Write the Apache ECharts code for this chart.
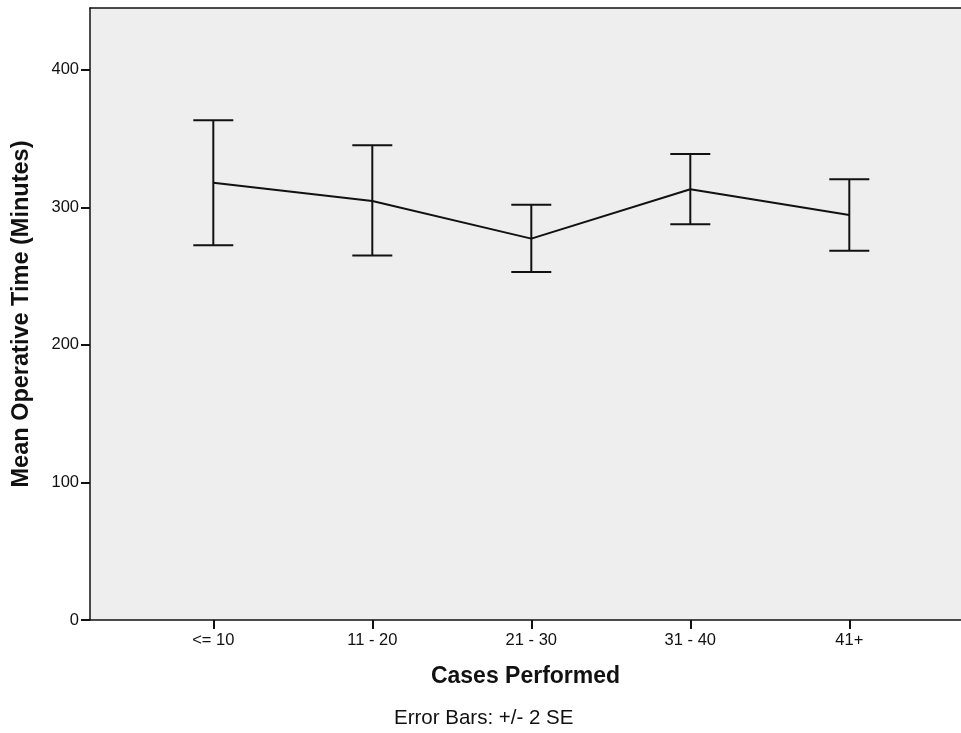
<!DOCTYPE html>
<html>
<head>
<meta charset="utf-8">
<script src="https://cdn.jsdelivr.net/npm/echarts@6/dist/echarts.min.js"></script>
<style>html,body{margin:0;padding:0;background:#fff}#c{width:961px;height:733px}</style>
</head>
<body>
<div id="c"></div>
<script>
const categories = ['<= 10', '11 - 20', '21 - 30', '31 - 40', '41+'];
const means = [318, 304.7, 277.3, 313.2, 294.5];
const lower = [272.5, 265, 253.1, 287.8, 268.4];
const upper = [363.4, 345.2, 302, 338.9, 320.5];
const yTicks = [0, 100, 200, 300, 400];

const catPos = categories.map((c, i) => i + 1);
const lineData = catPos.map((x, i) => [x, means[i]]);
const errData = catPos.map((x, i) => [x, lower[i], upper[i]]);

const chart = echarts.init(document.getElementById('c'));
const font = 'Liberation Sans, Arial, sans-serif';
const xMin = 0.2245, xMax = 5.7025;
chart.setOption({
  animation: false,
  grid: {left: 90, top: 8, right: 0, bottom: 113, show: true, backgroundColor: '#eeeeee', borderWidth: 0},
  xAxis: [{
    type: 'value', min: xMin, max: xMax,
    name: 'Cases Performed', nameLocation: 'middle', nameGap: 45,
    nameTextStyle: {fontFamily: font, fontSize: 23, fontWeight: 'bold', color: '#111'},
    axisLine: {show: true, lineStyle: {color: '#111', width: 1.5}},
    splitLine: {show: false},
    axisTick: {show: true, length: 9, lineStyle: {color: '#111', width: 2}, customValues: catPos},
    axisLabel: {customValues: catPos, formatter: v => categories[Math.round(v) - 1] || '', fontFamily: font, fontSize: 16.5, color: '#111', margin: 12}
  }, {
    type: 'value', position: 'top', min: xMin, max: xMax,
    axisLine: {show: true, lineStyle: {color: '#111', width: 1.5}},
    axisTick: {show: false}, axisLabel: {show: false}, splitLine: {show: false}
  }],
  yAxis: {
    type: 'value', min: 0, max: 445,
    name: 'Mean Operative Time (Minutes)', nameLocation: 'middle', nameGap: 56,
    nameTextStyle: {fontFamily: font, fontSize: 23.5, fontWeight: 'bold', color: '#111'},
    axisLine: {show: true, lineStyle: {color: '#111', width: 1.5}},
    splitLine: {show: false},
    axisTick: {show: true, length: 9, lineStyle: {color: '#111', width: 2}, customValues: yTicks},
    axisLabel: {customValues: yTicks, fontFamily: font, fontSize: 16.5, color: '#111', margin: 11}
  },
  graphic: [{type: 'text', left: 394, top: 708, style: {text: 'Error Bars: +/- 2 SE', font: '20.5px ' + font, fill: '#111'}}],
  series: [
    {type: 'line', data: lineData, symbol: 'none', lineStyle: {color: '#111', width: 2}, z: 3},
    {type: 'custom', data: errData, z: 4,
      renderItem: function (params, api) {
        const x = api.value(0);
        const lo = api.coord([x, api.value(1)]);
        const hi = api.coord([x, api.value(2)]);
        const hw = 20;
        const st = {stroke: '#111', lineWidth: 2};
        return {type: 'group', children: [
          {type: 'line', shape: {x1: lo[0], y1: lo[1], x2: hi[0], y2: hi[1]}, style: st},
          {type: 'line', shape: {x1: lo[0] - hw, y1: lo[1], x2: lo[0] + hw, y2: lo[1]}, style: st},
          {type: 'line', shape: {x1: hi[0] - hw, y1: hi[1], x2: hi[0] + hw, y2: hi[1]}, style: st}
        ]};
      }
    }
  ]
});
</script>
</body>
</html>
